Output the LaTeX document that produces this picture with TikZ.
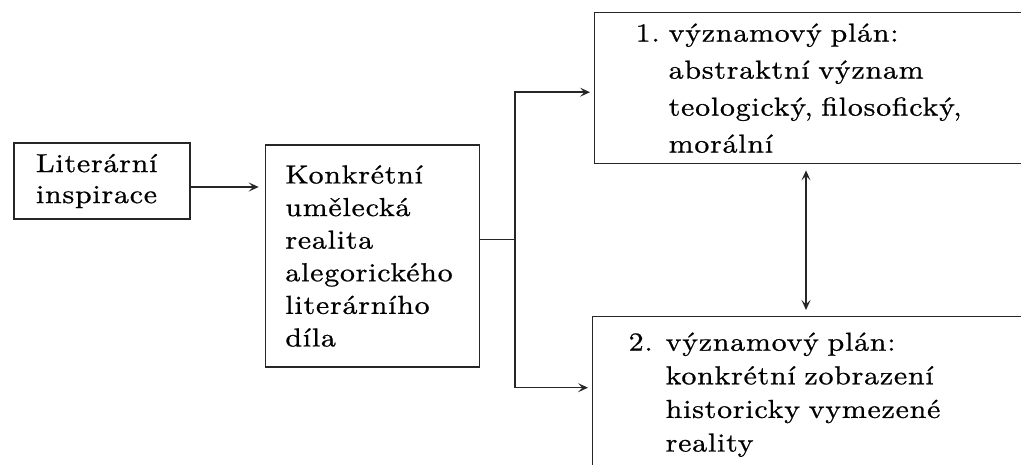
\documentclass[tikz,border=0pt]{standalone}
\usepackage{fontspec}
\setmainfont{lmroman10-regular.otf}[FakeStretch=1.15,LetterSpace=3,FakeBold=0.8]
\usetikzlibrary{arrows.meta,positioning}
\tikzstyle{block} = [rectangle,
                    draw=black!85,
                    line width=0.7pt,
                    align=left,
                    inner ysep=0pt]
\tikzstyle{arrow} = [-{Stealth[length=5pt,width=4.5pt,inset=2.2pt]},
                    shorten >=2pt]
\tikzstyle{dbarrow} = [{Stealth[length=5pt,width=4.5pt,inset=2.2pt]}-{Stealth[length=5pt,width=4.5pt,inset=2.2pt]},
                      shorten >=3pt,
                      shorten <=3pt]
\tikzstyle{control} = [x=0.5pt,
                      y=-0.5pt,
                      line width=0.7pt,
                      draw=black!85]

\begin{document}
\begin{tikzpicture}[control]
    \useasboundingbox (0,0) rectangle (1021,465);
    \node (0) [block, text width=66pt, inner xsep=11pt, minimum height=38pt,
      font=\fontsize{13}{15.5}\selectfont] at (102,181) {Literární\\inspirace};
    \node (1) [block, right=37pt of 0, yshift=-37.5pt, text width=87pt, inner xsep=10pt,
      minimum height=111pt, font=\fontsize{13}{16.3}\selectfont]
      {Konkrétní\\umělecká\\realita\\alegorického\\literárního\\díla};
    \node (2) [block, anchor=north west, text width=220pt, inner xsep=20.5pt,
      minimum height=75.5pt, font=\fontsize{13}{18.5}\selectfont] at (594,12)
      {\makebox[16.5pt][l]{1.}významový plán:\\
       \hspace*{16.5pt}abstraktní význam\\
       \hspace*{16.5pt}teologický, filosofický,\\
       \hspace*{16.5pt}morální};
    \node (3) [block, anchor=north west, text width=220pt, inner xsep=18pt,
      minimum height=78pt, font=\fontsize{13}{16.8}\selectfont] at (592,316)
      {\makebox[18.5pt][l]{2.}významový plán:\\
       \hspace*{18.5pt}konkrétní zobrazení\\
       \hspace*{18.5pt}historicky vymezené\\
       \hspace*{18.5pt}reality};
    \coordinate (fork) at (515,239.5);
    \coordinate (link) at (806,0);

    \draw[arrow, shorten >=3pt] ([yshift=-3pt]0.east) -- ([yshift=-3pt]0.east -| 1.west);
    \draw (1.east |- fork) -- (fork);
    \draw[arrow] (fork) |- ([yshift=-2pt]2.west);
    \draw[arrow] (fork) |- ([yshift=3.5pt]3.west);
    \draw[dbarrow] (link |- 2.south) -- (link |- 3.north);
\end{tikzpicture}
\end{document}
